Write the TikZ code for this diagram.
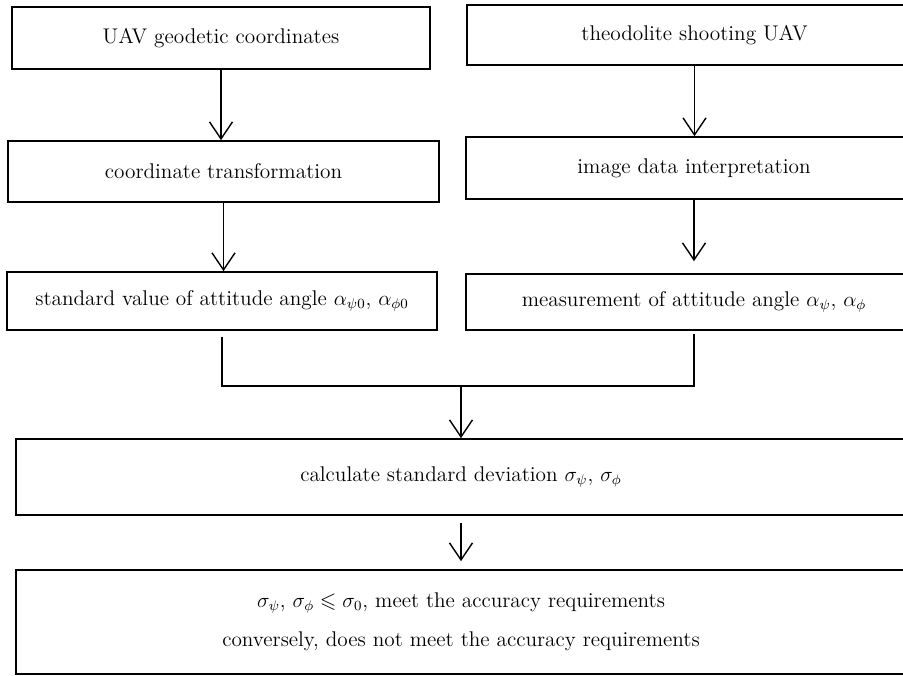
\documentclass[tikz,border=0pt]{standalone}
\usepackage{amssymb}
\usetikzlibrary{arrows.meta,calc}

\tikzset{
  box/.style={draw, line width=1pt, inner sep=0pt, align=center,
    font=\fontsize{12.1}{14.5}\selectfont},
  arr/.style={line width=0.8pt, -{Straight Barb[length=0.34cm,width=0.46cm,line width=0.8pt]}},
  link/.style={line width=0.8pt}
}

\begin{document}
\begin{tikzpicture}[x=0.02cm, y=-0.02cm]
  \useasboundingbox (0,0) rectangle (903,676);

  % Left column
    \node[box, minimum width=8.36cm, minimum height=1.24cm] (geo) at (221,38) {UAV geodetic coordinates};
    \node[box, minimum width=8.62cm, minimum height=1.22cm] (trans) at (223.5,171.5) {coordinate transformation};
    \node[box, minimum width=8.60cm, minimum height=1.16cm] (stdval) at (222,301)
      {standard value of attitude angle $\alpha_{\psi0}$, $\alpha_{\phi0}$};

  % Right column
    \node[box, minimum width=9.10cm, minimum height=1.20cm] (theo) at (694.5,35) {theodolite shooting UAV};
    \node[box, minimum width=9.12cm, minimum height=1.24cm] (interp) at (694,168) {image data interpretation};
    \node[box, minimum width=9.12cm, minimum height=1.12cm] (meas) at (694,302)
      {measurement of attitude angle $\alpha_{\psi}$, $\alpha_{\phi}$};

  % Bottom boxes
    \node[box, minimum width=17.80cm, minimum height=1.52cm] (calc) at (461,477)
      {calculate standard deviation $\sigma_{\psi}$, $\sigma_{\phi}$};
    \node[box, minimum width=17.80cm, minimum height=2.08cm] (judge) at (461,622)
      {$\sigma_{\psi}$, $\sigma_{\phi}\leqslant\sigma_{0}$, meet the accuracy requirements\\[8pt]
       conversely, does not meet the accuracy requirements};

  % Arrows
    \draw[arr] (geo.south) -- (geo.south |- trans.north);
    \draw[arr] (trans.south) -- (trans.south |- stdval.north);
    \draw[arr] (theo.south) -- (theo.south |- interp.north);
    \draw[arr, shorten >=0.24cm] (interp.south) -- (interp.south |- meas.north);

  % Merge
    \coordinate (mrg) at (461,386);
    \draw[link] ([yshift=-0.12cm]stdval.south) |- (mrg) -| ([yshift=-0.06cm]meas.south);
    \draw[arr] (mrg) -- (calc.north);
    \draw[arr, shorten <=0.14cm, shorten >=0.16cm] (calc.south) -- (judge.north);

\end{tikzpicture}
\end{document}
